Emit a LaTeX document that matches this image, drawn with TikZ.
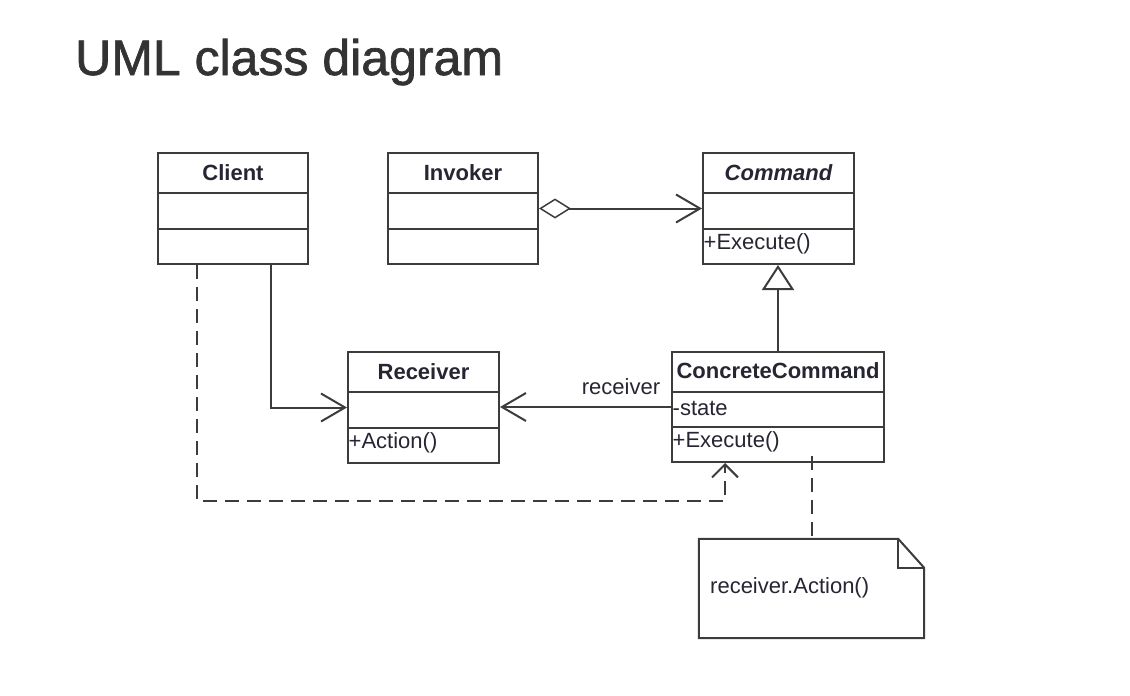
\documentclass[tikz,border=0pt]{standalone}
\usepackage{fontspec}
\setmainfont{Liberation Sans}
\newfontfamily\titlefont[FakeBold=1.3]{Liberation Sans}
\usetikzlibrary{arrows.meta,calc}
\definecolor{ln}{HTML}{3C3C3C}
\definecolor{tx}{HTML}{262633}
\definecolor{ttl}{HTML}{333333}
\tikzset{
  cls/.style={draw=ln, line width=2pt, fill=white, inner sep=0pt},
  cname/.style={font=\fontsize{22}{24}\selectfont\bfseries, text=tx, inner sep=0pt},
  member/.style={font=\fontsize{22}{24}\selectfont, text=tx, inner sep=0pt, anchor=west},
  conn/.style={draw=ln, line width=2pt},
  assoc/.style={conn, -{Straight Barb[length=24pt,width=28pt,line width=2pt]}},
  aggr/.style={conn, {Diamond[open,length=32pt,width=20pt,line width=1.5pt]}-{Straight Barb[length=24pt,width=28pt,line width=2pt]}},
  gen/.style={conn, -{Triangle[open,length=25pt,width=32pt,line width=2pt]}},
  dep/.style={conn, dash pattern=on 14pt off 8pt, -{Straight Barb[length=13pt,width=26pt,line width=2pt]}},
  notelink/.style={conn, dash pattern=on 14pt off 8pt},
  lbl/.style={font=\fontsize{22}{24}\selectfont, text=tx, inner sep=0pt}
}
\begin{document}
\begin{tikzpicture}[x=1pt,y=-1pt]
\useasboundingbox (0,0) rectangle (1130,696);
\node[font=\titlefont\fontsize{50}{55}\selectfont, text=ttl, anchor=base west, inner sep=0pt] (title) at (75,75) {UML class diagram};

% Client
\node[cls, minimum width=150pt, minimum height=111pt] (client) at (233,208.5) {};
\draw[conn] (158,193) -- (308,193) (158,229) -- (308,229);
\node[cname] (client-t) at (233,173) {Client};

% Invoker
\node[cls, minimum width=150pt, minimum height=111pt] (invoker) at (463,208.5) {};
\draw[conn] (388,193) -- (538,193) (388,229) -- (538,229);
\node[cname] (invoker-t) at (463,173) {Invoker};

% Command
\node[cls, minimum width=151pt, minimum height=111pt] (command) at (778.5,208.5) {};
\draw[conn] (703,193) -- (854,193) (703,229) -- (854,229);
\node[cname, font=\fontsize{22}{24}\selectfont\bfseries\itshape] (command-t) at (778.5,173) {Command};
\node[member] (command-m) at (703.5,244) {+Execute()};

% Receiver
\node[cls, minimum width=151pt, minimum height=111pt] (receiver) at (423.5,407.5) {};
\draw[conn] (348,392) -- (499,392) (348,428) -- (499,428);
\node[cname] (receiver-t) at (423.5,372) {Receiver};
\node[member] (receiver-m) at (348.5,443) {+Action()};

% ConcreteCommand
\node[cls, minimum width=212pt, minimum height=110pt] (cc) at (778,407) {};
\draw[conn] (672,392) -- (884,392) (672,427) -- (884,427);
\node[cname] (cc-t) at (778,371) {ConcreteCommand};
\node[member] (cc-a) at (672.5,408) {-state};
\node[member] (cc-m) at (672.5,442) {+Execute()};

% Note
\node[minimum width=225pt, minimum height=99pt, inner sep=0pt] (note) at (811.5,588.5) {};
\draw[conn, fill=white] (note.north west) -- ([xshift=-26pt]note.north east) -- ([yshift=-29pt]note.north east) -- (note.south east) -- (note.south west) -- cycle;
\draw[conn] ([xshift=-26pt]note.north east) |- ([yshift=-29pt]note.north east);
\node[member] (note-t) at (710,588) {receiver.Action()};

% Connectors
\draw[aggr] (invoker.east) -- (command.west);
\draw[assoc] ([xshift=38pt]client.south) |- (receiver.west);
\draw[dep] ([xshift=-36pt]client.south) -- ++(0,236) -| ([xshift=-53pt]cc.south);
\draw[gen] (cc.north) -- (cc.north |- command.south);
\draw[assoc] (cc.west) -- (cc.west -| receiver.east);
\node[lbl] (rlabel) at (621,387) {receiver};
\draw[notelink] ([xshift=34pt,yshift=7pt]cc.south) -- ([xshift=34pt]cc.south |- note.north);
\end{tikzpicture}
\end{document}
